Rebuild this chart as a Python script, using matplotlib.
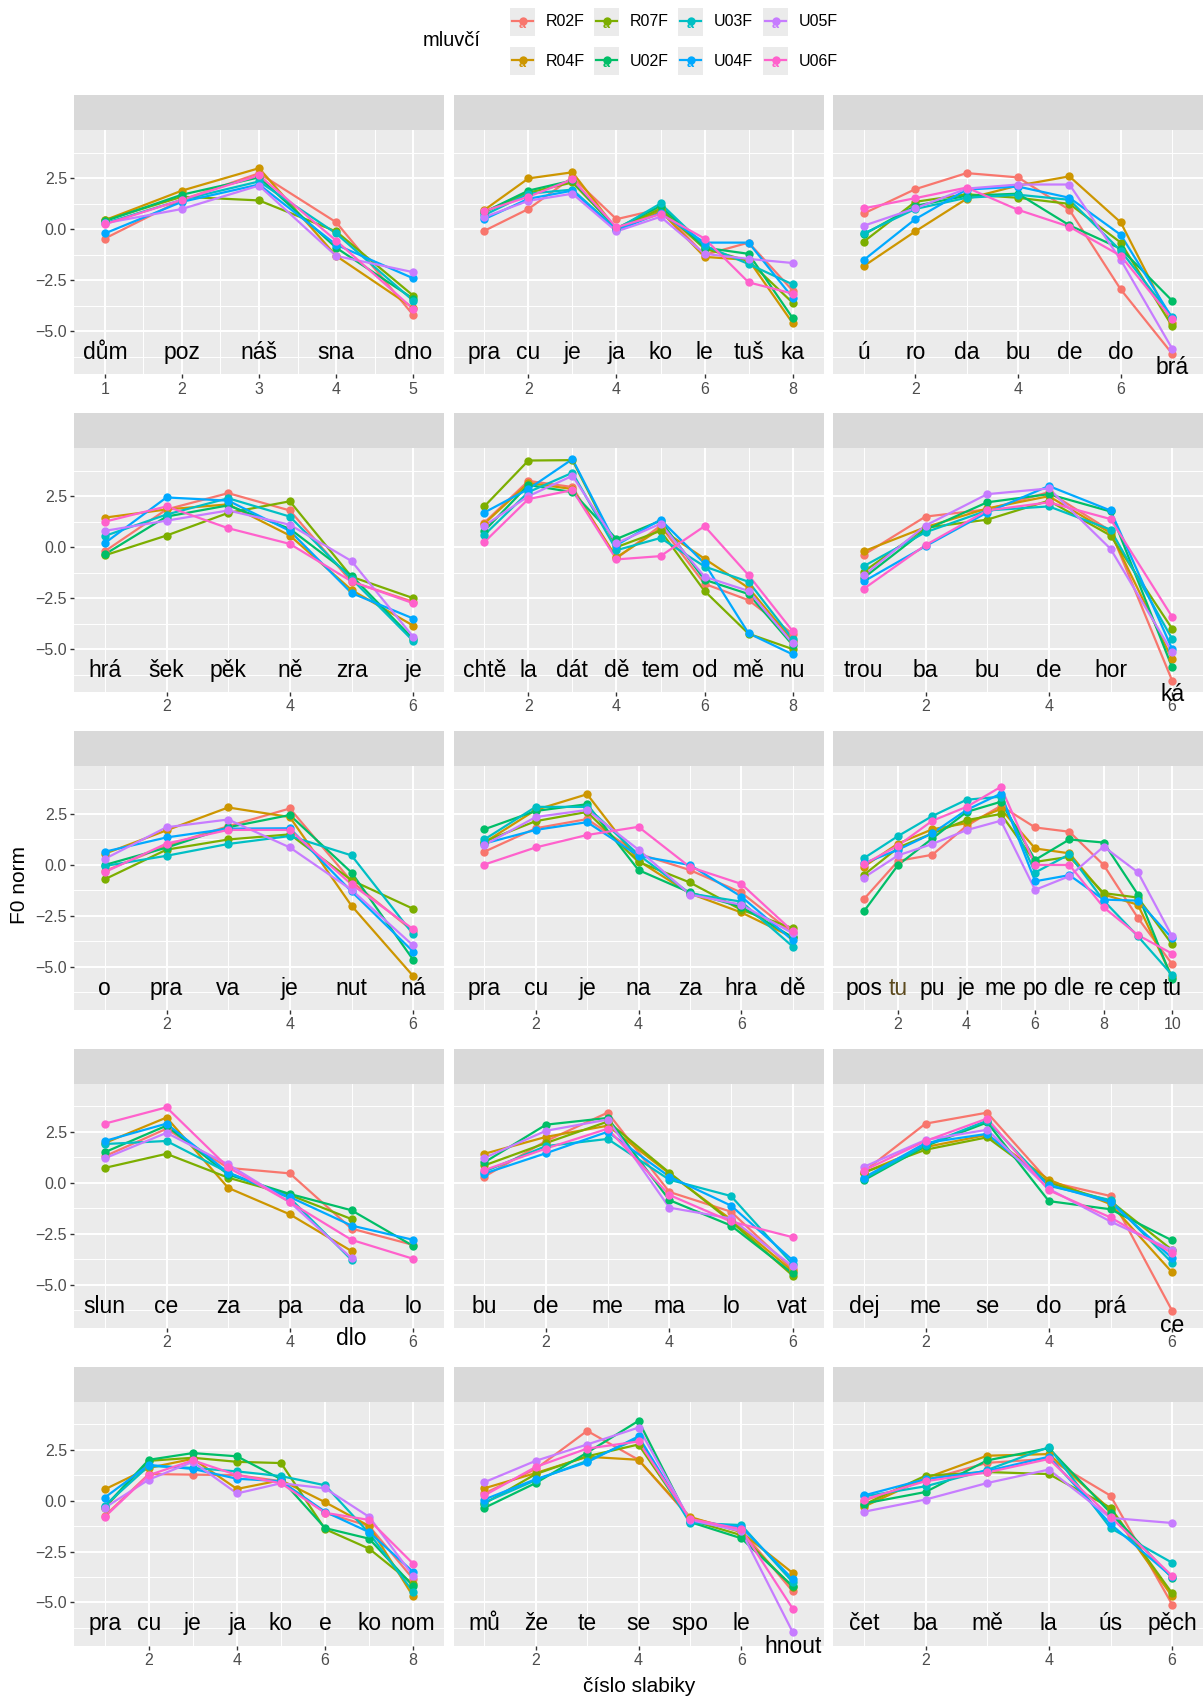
import numpy as np
import matplotlib
matplotlib.use('Agg')
import matplotlib.pyplot as plt
from matplotlib.patches import Rectangle

plt.rcParams['font.family'] = ['Liberation Sans', 'DejaVu Sans']

speakers = ['R02F', 'R04F', 'R07F', 'U02F', 'U03F', 'U04F', 'U05F', 'U06F']
colors = ['#F8766D', '#CD9600', '#7CAE00', '#00BE67',
          '#00BFC4', '#00A9FF', '#C77CFF', '#FF61CC']

# syllables of each utterance, facet order (row by row)
syllables = [
    ['dům', 'poz', 'náš', 'sna', 'dno'],
    ['pra', 'cu', 'je', 'ja', 'ko', 'le', 'tuš', 'ka'],
    ['ú', 'ro', 'da', 'bu', 'de', 'do', 'brá'],
    ['hrá', 'šek', 'pěk', 'ně', 'zra', 'je'],
    ['chtě', 'la', 'dát', 'dě', 'tem', 'od', 'mě', 'nu'],
    ['trou', 'ba', 'bu', 'de', 'hor', 'ká'],
    ['o', 'pra', 'va', 'je', 'nut', 'ná'],
    ['pra', 'cu', 'je', 'na', 'za', 'hra', 'dě'],
    ['pos', 'tu', 'pu', 'je', 'me', 'po', 'dle', 're', 'cep', 'tu'],
    ['slun', 'ce', 'za', 'pa', 'da', 'lo'],
    ['bu', 'de', 'me', 'ma', 'lo', 'vat'],
    ['dej', 'me', 'se', 'do', 'prá', 'ce'],
    ['pra', 'cu', 'je', 'ja', 'ko', 'e', 'ko', 'nom'],
    ['mů', 'že', 'te', 'se', 'spo', 'le', 'hnout'],
    ['čet', 'ba', 'mě', 'la', 'ús', 'pěch'],
]

# F0 norm: one row per syllable, one column per speaker (order of `speakers`)
f0_dum = [
    [-0.45, 0.45, 0.45, 0.40, 0.30, -0.20, 0.30, 0.25],
    [1.45, 1.90, 1.60, 1.70, 1.45, 1.35, 1.00, 1.45],
    [2.75, 3.00, 1.42, 2.55, 2.35, 2.20, 2.15, 2.65],
    [0.35, -1.30, -0.10, -0.90, -0.20, -0.75, -1.30, -0.55],
    [-4.20, -3.85, -3.25, -3.40, -3.50, -2.40, -2.10, -3.90],
]
f0_pracujeme = [
    [-0.07, 0.95, 0.85, 0.85, 0.70, 0.50, 0.60, 0.90],
    [1.00, 2.50, 1.80, 1.90, 1.75, 1.50, 1.40, 1.60],
    [2.55, 2.80, 2.30, 2.40, 1.95, 1.90, 1.75, 2.45],
    [0.50, 0.00, 0.05, 0.05, 0.00, -0.05, -0.10, 0.10],
    [1.00, 0.90, 1.00, 1.15, 1.27, 0.80, 0.62, 0.75],
    [-1.25, -1.35, -0.95, -0.90, -0.80, -0.65, -1.20, -0.45],
    [-0.65, -1.50, -1.55, -1.20, -1.70, -0.65, -1.45, -2.60],
    [-3.00, -4.60, -3.60, -4.35, -2.70, -3.35, -1.65, -3.15],
]
f0_urodabu = [
    [0.78, -1.80, -0.60, -0.25, -0.20, -1.50, 0.18, 1.03],
    [1.97, -0.10, 1.35, 1.15, 1.00, 0.50, 1.03, 1.53],
    [2.76, 1.50, 1.72, 1.65, 1.55, 1.95, 2.00, 2.05],
    [2.55, 2.15, 1.55, 1.75, 1.70, 2.10, 2.20, 0.96],
    [0.96, 2.60, 1.25, 0.20, 1.45, 1.55, 2.20, 0.13],
    [-2.95, 0.34, -0.65, -0.95, -1.05, -0.27, -1.50, -1.30],
    [-6.10, -4.60, -4.75, -3.50, -4.30, -4.35, -5.85, -4.40],
]
f0_hrasek = [
    [-0.20, 1.45, -0.40, -0.35, 0.55, 0.20, 0.80, 1.25],
    [1.85, 1.85, 0.57, 1.50, 1.60, 2.44, 1.30, 2.00],
    [2.65, 2.10, 1.68, 2.05, 2.40, 2.28, 1.80, 0.93],
    [1.80, 0.57, 2.25, 0.90, 1.50, 0.80, 1.10, 0.16],
    [-1.70, -2.10, -1.45, -1.40, -1.55, -2.25, -0.68, -1.68],
    [-2.68, -3.85, -2.50, -4.50, -4.60, -3.50, -4.40, -2.75],
]
f0_chtela = [
    [1.20, 1.15, 2.00, 0.80, 0.60, 1.70, 1.05, 0.25],
    [3.25, 3.15, 4.25, 3.05, 2.70, 2.85, 2.50, 2.36],
    [2.95, 2.85, 4.27, 2.70, 3.65, 4.32, 3.50, 2.80],
    [-0.55, -0.50, 0.00, 0.40, -0.15, 0.10, 0.20, -0.60],
    [1.05, 0.90, 0.80, 1.30, 0.45, 1.35, 1.15, -0.44],
    [-1.80, -0.57, -2.15, -1.60, -0.95, -0.80, -1.45, 1.03],
    [-2.60, -2.00, -4.25, -2.30, -1.70, -4.23, -2.15, -1.38],
    [-4.25, -4.60, -5.00, -4.80, -4.50, -5.26, -4.72, -4.12],
]
f0_troubadour = [
    [-0.37, -0.20, -1.20, -1.50, -0.93, -1.68, -1.38, -2.04],
    [1.50, 0.98, 0.95, 0.85, 0.73, 0.05, 1.06, 0.10],
    [1.85, 1.90, 1.35, 2.20, 1.80, 1.70, 2.60, 1.80],
    [2.70, 2.50, 2.28, 2.60, 2.00, 3.00, 2.88, 2.20],
    [0.80, 0.70, 0.57, 1.75, 0.86, 1.80, -0.08, 1.38],
    [-6.55, -5.50, -4.00, -5.90, -4.50, -5.00, -5.15, -3.42],
]
f0_opravdu = [
    [-0.30, 0.55, -0.70, 0.00, -0.05, 0.65, 0.30, -0.35],
    [0.95, 1.70, 0.75, 0.85, 0.45, 1.35, 1.85, 1.05],
    [1.90, 2.82, 1.25, 1.85, 1.03, 1.78, 2.23, 1.72],
    [2.77, 2.35, 1.50, 2.45, 1.42, 1.80, 0.86, 1.72],
    [-0.80, -2.00, -0.75, -0.37, 0.47, -1.30, -1.22, -0.95],
    [-3.25, -5.45, -2.15, -4.65, -3.40, -4.25, -3.95, -3.15],
]
f0_pracujena = [
    [0.65, 1.10, 1.15, 1.75, 1.25, 1.05, 0.98, 0.02],
    [1.80, 2.70, 2.15, 2.65, 2.85, 1.72, 2.35, 0.86],
    [2.25, 3.47, 2.60, 2.98, 2.85, 2.10, 2.70, 1.47],
    [0.55, 0.20, 0.15, -0.25, 0.50, 0.45, 0.75, 1.87],
    [-0.25, -1.40, -0.86, -1.35, -1.40, 0.00, -1.45, -0.10],
    [-1.35, -2.33, -2.20, -2.05, -1.80, -1.55, -1.95, -0.93],
    [-3.35, -3.55, -3.10, -3.55, -4.00, -3.70, -3.35, -3.25],
]
f0_postupuje = [
    [-1.68, -0.08, -0.49, -2.28, 0.33, 0.08, -0.62, 0.03],
    [0.20, 1.05, 0.85, 0.00, 1.42, 0.75, 0.47, 0.95],
    [0.50, 1.75, 1.55, 1.30, 2.40, 1.55, 1.03, 2.17],
    [1.92, 2.05, 2.20, 2.60, 3.20, 2.70, 1.71, 2.85],
    [2.90, 2.75, 2.50, 3.10, 3.35, 3.50, 2.17, 3.83],
    [1.84, 0.81, 0.15, 0.25, -0.37, -0.80, -1.22, 0.00],
    [1.63, 0.57, 0.40, 1.25, 0.52, -0.50, -0.55, 0.00],
    [0.00, -1.45, -1.38, 1.10, -1.75, -1.70, 0.90, -2.08],
    [-2.60, -1.95, -1.60, -1.45, -3.50, -1.75, -0.36, -3.44],
    [-4.87, -5.50, -3.90, -5.60, -5.40, -3.60, -3.50, -4.35],
]
f0_slunce = [
    [1.30, 1.95, 0.73, 1.50, 1.90, 2.05, 1.20, 2.90],
    [2.65, 3.20, 1.42, 2.80, 2.05, 2.90, 2.45, 3.70],
    [0.73, -0.25, 0.25, 0.40, 0.50, 0.50, 0.90, 0.75],
    [0.46, -1.55, -0.60, -0.55, -0.75, -0.70, -0.95, -0.95],
    [-2.25, -3.35, -1.78, -1.35, -3.78, -2.10, -3.70, -2.80],
    [-3.05, np.nan, np.nan, -3.10, np.nan, -2.80, np.nan, -3.73],
]
f0_budeme = [
    [0.30, 1.42, 0.85, 1.00, 0.55, 0.45, 1.22, 0.62],
    [2.05, 2.25, 1.95, 2.85, 1.80, 1.45, 2.55, 1.68],
    [3.44, 2.80, 3.00, 3.18, 2.15, 2.50, 3.10, 2.65],
    [-0.45, 0.45, 0.50, -0.85, 0.15, 0.30, -1.22, -0.60],
    [-1.42, -1.80, -1.90, -2.10, -0.65, -1.12, -1.75, -1.90],
    [-4.25, -4.35, -4.55, -4.45, -4.00, -3.80, -4.10, -2.67],
]
f0_dejme = [
    [0.55, 0.50, 0.50, 0.12, 0.20, 0.25, 0.78, 0.60],
    [2.90, 1.75, 1.62, 1.80, 1.85, 1.95, 2.10, 2.05],
    [3.44, 2.35, 2.23, 2.96, 3.05, 2.40, 2.60, 3.15],
    [0.05, 0.15, 0.00, -0.90, -0.15, -0.10, -0.30, -0.37],
    [-0.65, -1.05, -0.90, -1.30, -0.85, -0.95, -1.90, -1.70],
    [-6.28, -4.40, -3.30, -2.83, -3.93, -3.70, -3.30, -3.45],
]
f0_pracujeko = [
    [-0.75, 0.55, -0.35, -0.30, -0.25, 0.15, -0.35, -0.80],
    [1.30, 1.60, 1.95, 2.00, 1.70, 1.75, 1.03, 1.25],
    [1.27, 2.05, 2.10, 2.33, 1.60, 1.55, 1.90, 1.97],
    [1.25, 0.57, 1.90, 2.17, 1.43, 1.07, 0.35, 1.25],
    [0.95, 1.00, 1.84, 1.05, 1.20, 0.95, 0.85, 0.85],
    [-0.60, -0.08, -1.40, -1.35, 0.75, -0.55, 0.60, -0.60],
    [-1.25, -1.25, -2.36, -1.87, -1.60, -1.55, -0.80, -0.95],
    [-3.85, -4.70, -4.10, -4.20, -4.48, -3.50, -3.70, -3.10],
]
f0_muzete = [
    [0.35, 0.60, -0.15, -0.36, -0.10, 0.05, 0.90, 0.25],
    [1.55, 1.35, 1.30, 0.86, 1.00, 1.05, 1.95, 1.65],
    [3.42, 2.15, 2.17, 2.35, 1.95, 1.88, 2.75, 2.55],
    [2.00, 2.00, 2.75, 3.91, 3.05, 3.15, 3.58, 2.90],
    [-0.85, -0.80, -0.95, -1.05, -1.10, -1.00, -0.95, -0.90],
    [-1.45, -1.55, -1.70, -1.85, -1.20, -1.30, -1.50, -1.40],
    [-4.45, -3.55, -4.25, -4.20, -4.00, -3.85, -6.45, -5.30],
]
f0_cetba = [
    [0.00, -0.30, -0.20, -0.15, 0.20, 0.25, -0.55, 0.05],
    [1.00, 1.10, 1.22, 0.42, 0.70, 1.05, 0.05, 0.95],
    [1.85, 2.20, 1.40, 1.97, 1.50, 1.45, 0.86, 1.38],
    [2.05, 2.28, 1.30, 2.57, 2.62, 2.15, 1.52, 2.04],
    [0.24, -0.45, -0.35, -0.60, -1.35, -1.15, -0.85, -0.80],
    [-5.10, -4.70, -4.55, -3.80, -3.05, -3.75, -1.10, -3.70],
]

f0_all = [f0_dum, f0_pracujeme, f0_urodabu, f0_hrasek, f0_chtela,
          f0_troubadour, f0_opravdu, f0_pracujena, f0_postupuje,
          f0_slunce, f0_budeme, f0_dejme, f0_pracujeko, f0_muzete, f0_cetba]

# ---- layout (pixels of the 1204x1701 canvas) ----
W, H = 1204, 1701
fig = plt.figure(figsize=(W / 100, H / 100), dpi=100)
col_left = [74, 453.5, 833]
panel_w = 370
row_top = [95.5 + 317.8 * r for r in range(5)]
strip_h = 35
panel_h = 244
ylim = (-7.12, 4.85)

text_gray = '#4D4D4D'

for i, (syl, data) in enumerate(zip(syllables, f0_all)):
    r, c = divmod(i, 3)
    vals = np.array(data, dtype=float)
    n = len(syl)
    x = np.arange(1, n + 1)

    top = row_top[r]
    sax = fig.add_axes([col_left[c] / W, 1 - (top + strip_h) / H,
                        panel_w / W, strip_h / H])
    sax.set_facecolor('#D9D9D9')
    sax.set_xticks([])
    sax.set_yticks([])
    for sp in sax.spines.values():
        sp.set_visible(False)

    ax = fig.add_axes([col_left[c] / W, 1 - (top + strip_h + panel_h) / H,
                       panel_w / W, panel_h / H])
    ax.set_facecolor('#EBEBEB')
    for sp in ax.spines.values():
        sp.set_visible(False)

    pad = 0.1 * (n - 1)
    ax.set_xlim(1 - pad, n + pad)
    ax.set_ylim(*ylim)

    if n == 5:
        xmaj = list(range(1, n + 1))
        xmin = [k + 0.5 for k in range(1, n)]
    else:
        xmaj = list(range(2, n + 1, 2))
        xmin = list(range(1, n + 1, 2))
    ax.set_xticks(xmaj)
    ax.set_xticks(xmin, minor=True)
    ax.set_yticks([-5, -2.5, 0, 2.5])
    ax.set_yticks([-6.25, -3.75, -1.25, 1.25, 3.75], minor=True)
    ax.set_yticklabels(['\u22125.0', '\u22122.5', '0.0', '2.5'])
    ax.grid(which='major', color='white', lw=1.4)
    ax.grid(which='minor', color='white', lw=0.7)
    ax.set_axisbelow(True)
    ax.tick_params(which='minor', length=0)
    ax.tick_params(which='major', length=3.1, width=1.0, color='#333333',
                   labelsize=11.5, labelcolor=text_gray, pad=2)
    if c > 0:
        ax.tick_params(axis='y', which='major', length=0, labelleft=False)

    # lines first, then points, speaker order
    for s in range(len(speakers)):
        ax.plot(x, vals[:, s], color=colors[s], lw=1.6, zorder=3)
    for s in range(len(speakers)):
        ax.plot(x, vals[:, s], 'o', color=colors[s], ms=6, mew=0, zorder=4)

    for k, lab in enumerate(syl):
        lo = np.nanmin(vals[k])
        # syllable names sit at -6, pushed down below very low points
        ly = -6.05 if lo > -6.0 else lo - 0.7
        col = 'black'
        if i == 8 and k == 1:
            col = '#5C4A1E'
        ax.text(k + 1, ly, lab, ha='center', va='center', fontsize=16.5,
                color=col, zorder=5, clip_on=False)
    if i == 9:
        # five-syllable variant of the last syllable
        ax.text(5, -7.65, 'dlo', ha='center', va='center', fontsize=16.5,
                zorder=5, clip_on=False)

# axis titles
fig.text(19.5 / W, 1 - 885 / H, 'F0 norm', rotation=90, ha='center',
         va='center', fontsize=15)
fig.text(639 / W, 1 - 1686 / H, 'číslo slabiky', ha='center', va='center',
         fontsize=15)

# legend
lax = fig.add_axes([0, 0, 1, 1])
lax.set_xlim(0, W)
lax.set_ylim(H, 0)
lax.axis('off')
lax.text(452, 41, 'mluvčí', ha='center', va='center', fontsize=14.4)
key_x = [510, 594, 678, 763]
key_y = [8, 47]
kw, kh = 25, 28
for s, name in enumerate(speakers):
    kx = key_x[s // 2]
    ky = key_y[s % 2]
    lax.add_patch(Rectangle((kx, ky), kw, kh, facecolor='#EBEBEB',
                            edgecolor='none'))
    cy = ky + kh / 2 - 1
    lax.plot([kx + 2, kx + kw - 2], [cy, cy], color=colors[s], lw=1.6)
    lax.plot([kx + kw / 2], [cy], 'o', color=colors[s], ms=6, mew=0)
    lax.text(kx + kw / 2, cy + 4, 'a', color=colors[s], ha='center',
             va='center', fontsize=9, fontweight='bold')
    lax.text(kx + 36, ky + kh / 2, name, ha='left', va='center',
             fontsize=11.5)

fig.savefig('out.png', dpi=100)
